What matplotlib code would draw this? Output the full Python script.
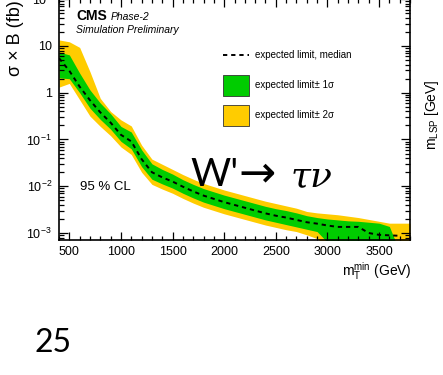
import numpy as np
import matplotlib
matplotlib.use("Agg")
import matplotlib.pyplot as plt
from matplotlib.patches import Rectangle
from matplotlib.lines import Line2D
from matplotlib.ticker import MultipleLocator, LogLocator, FuncFormatter, NullFormatter

plt.rcParams['font.family'] = ['Liberation Sans', 'DejaVu Sans']
plt.rcParams['mathtext.fontset'] = 'custom'
plt.rcParams['mathtext.rm'] = 'Liberation Sans'
plt.rcParams['mathtext.it'] = 'Liberation Sans:italic'
plt.rcParams['mathtext.bf'] = 'Liberation Sans:bold'

# m_T^min scan points (GeV)
mt_min = [400, 500, 600, 700, 800, 900, 1000, 1100, 1200, 1300, 1400, 1500,
          1600, 1700, 1800, 1900, 2000, 2100, 2200, 2300, 2400, 2500, 2600,
          2700, 2800, 2900, 3000, 3100, 3200, 3300, 3400, 3500, 3600, 3700, 3800]

# log10 of sigma x B (fb)
median_log = [0.74, 0.47, 0.13, -0.16, -0.42, -0.64, -0.90, -1.04, -1.42, -1.70,
              -1.81, -1.90, -2.01, -2.11, -2.20, -2.27, -2.34, -2.40, -2.46, -2.52,
              -2.58, -2.63, -2.67, -2.72, -2.77, -2.80, -2.84, -2.87, -2.87, -2.87,
              -3.00, -3.04, -3.05, -3.06, np.nan]
up1_log = [0.87, 0.81, 0.42, 0.06, -0.22, -0.45, -0.72, -0.84, -1.22, -1.52,
           -1.64, -1.74, -1.86, -1.96, -2.05, -2.12, -2.19, -2.25, -2.31, -2.37,
           -2.43, -2.48, -2.52, -2.57, -2.63, -2.67, -2.70, -2.72, -2.74, -2.75,
           -2.77, -2.79, -2.86, -3.40, -3.40]
dn1_log = [0.32, 0.30, 0.00, -0.33, -0.57, -0.78, -1.04, -1.20, -1.58, -1.85,
           -1.95, -2.04, -2.15, -2.25, -2.34, -2.41, -2.48, -2.54, -2.60, -2.66,
           -2.72, -2.77, -2.82, -2.87, -2.92, -2.97, -3.20, -3.25, -3.30, -3.35,
           -3.40, -3.40, -3.40, -3.40, -3.40]
up2_log = [1.13, 1.09, 0.97, 0.45, -0.12, -0.40, -0.58, -0.71, -1.12, -1.42,
           -1.53, -1.64, -1.75, -1.85, -1.94, -2.01, -2.08, -2.14, -2.20, -2.26,
           -2.32, -2.37, -2.42, -2.47, -2.54, -2.57, -2.59, -2.61, -2.64, -2.67,
           -2.71, -2.75, -2.79, -2.79, -2.79]
dn2_log = [0.12, 0.20, -0.15, -0.50, -0.72, -0.92, -1.16, -1.32, -1.70, -1.96,
           -2.06, -2.15, -2.26, -2.36, -2.45, -2.52, -2.59, -2.65, -2.71, -2.77,
           -2.83, -2.88, -2.93, -2.97, -3.04, -3.12, -3.30, -3.35, -3.40, -3.40,
           -3.40, -3.40, -3.40, -3.40, -3.40]

green = '#00cc00'
yellow = '#ffcc00'

W, H = 443, 375
def fx(px):
    return px / W
def fy(py):
    return 1 - py / H

fig = plt.figure(figsize=(W / 100, H / 100), dpi=100)
ax = fig.add_axes([fx(59), fy(240), (410 - 59) / W, 240.75 / H])

x = np.array(mt_min, dtype=float)
ax.fill_between(x, 10**np.array(dn2_log), 10**np.array(up2_log), color=yellow, lw=0)
ax.fill_between(x, 10**np.array(dn1_log), 10**np.array(up1_log), color=green, lw=0)
ax.plot(x, 10**np.array(median_log), color='black', lw=1.4, ls=(0, (2.2, 2.0)))

ax.set_yscale('log')
ax.set_xlim(400, 3800)
ax.set_ylim(10**-3.15, 10**2.0)

ax.xaxis.set_major_locator(MultipleLocator(500))
ax.xaxis.set_minor_locator(MultipleLocator(100))
ax.yaxis.set_major_locator(LogLocator(base=10, numticks=10))
ax.yaxis.set_minor_locator(LogLocator(base=10, subs=np.arange(2, 10), numticks=20))
ax.yaxis.set_minor_formatter(NullFormatter())

def ylab(v, pos):
    e = int(round(np.log10(v)))
    if e == 0:
        return '1'
    if e == 1:
        return '10'
    return r'$10^{%d}$' % e
ax.yaxis.set_major_formatter(FuncFormatter(ylab))

ax.tick_params(axis='both', which='both', direction='in', top=True, right=True,
               labelsize=9, width=0.9)
ax.tick_params(axis='x', which='major', length=5.5, pad=4)
ax.tick_params(axis='x', which='minor', length=3)
ax.tick_params(axis='y', which='major', length=6.5, pad=5)
ax.tick_params(axis='y', which='minor', length=3.5)
for s in ax.spines.values():
    s.set_linewidth(1.2)

# texts
fig.text(fx(76), fy(20), 'CMS', fontsize=10, fontweight='bold', va='baseline')
fig.text(fx(111), fy(20), 'Phase-2', fontsize=7.5, style='italic', va='baseline')
fig.text(fx(76), fy(33), 'Simulation Preliminary', fontsize=7.5, style='italic', va='baseline')
fig.text(fx(80), fy(190), '95 % CL', fontsize=9.5, va='baseline')

# legend
fig.add_artist(Line2D([fx(223), fx(249)], [fy(55), fy(55)], color='black', lw=1.4,
                      ls=(0, (2.2, 2.0))))
fig.add_artist(Rectangle((fx(223), fy(96)), 26 / W, 21 / H, facecolor=green,
                         edgecolor='#333333', lw=0.6, transform=fig.transFigure))
fig.add_artist(Rectangle((fx(223), fy(126)), 26 / W, 21 / H, facecolor=yellow,
                         edgecolor='#333333', lw=0.6, transform=fig.transFigure))
fig.text(fx(255), fy(55), 'expected limit, median', fontsize=7, va='center')
fig.text(fx(255), fy(85), 'expected limit\u00b1 1\u03c3', fontsize=7, va='center')
fig.text(fx(255), fy(115), 'expected limit\u00b1 2\u03c3', fontsize=7, va='center')

# axis labels
fig.text(fx(412), fy(276), r'm$_{\mathrm{T}}^{\mathrm{min}}$ (GeV)', fontsize=10,
         ha='right', va='baseline')
fig.text(fx(15), fy(76), '\u03c3 \u00d7 B (fb)', fontsize=13, rotation=90,
         ha='center', va='bottom')
fig.text(fx(432), fy(150), r'm$_{\mathrm{LSP}}$ [GeV]', fontsize=10, rotation=90,
         ha='center', va='bottom')

# slide annotations
fig.text(fx(190), fy(186), "W'", fontsize=28, family='Lato', va='baseline')
fig.text(fx(238), fy(186), '\u2192', fontsize=32, family='DejaVu Sans', va='baseline')
fig.text(fx(291), fy(186), '\u03c4\u03bd', fontsize=26, family='DejaVu Serif',
         style='italic', va='baseline')
fig.text(fx(34), fy(352), '25', fontsize=23, family='Lato', va='baseline')

fig.savefig('out.png', dpi=100)
